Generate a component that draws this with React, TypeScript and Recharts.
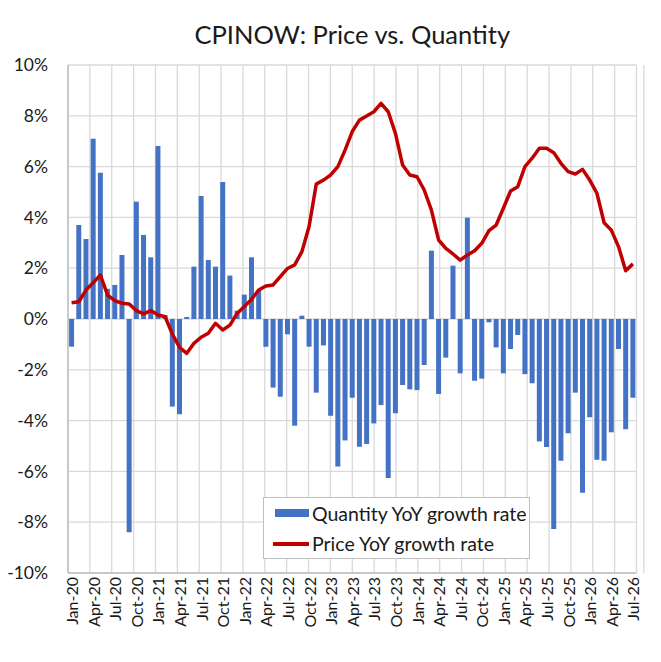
import React from "react";
import {
  ComposedChart,
  Bar,
  Line,
  XAxis,
  YAxis,
  CartesianGrid,
  Legend,
} from "recharts";

const months: string[] = [
  "Jan-20", "Feb-20", "Mar-20", "Apr-20", "May-20", "Jun-20", "Jul-20", "Aug-20", "Sep-20", "Oct-20", "Nov-20", "Dec-20",
  "Jan-21", "Feb-21", "Mar-21", "Apr-21", "May-21", "Jun-21", "Jul-21", "Aug-21", "Sep-21", "Oct-21", "Nov-21", "Dec-21",
  "Jan-22", "Feb-22", "Mar-22", "Apr-22", "May-22", "Jun-22", "Jul-22", "Aug-22", "Sep-22", "Oct-22", "Nov-22", "Dec-22",
  "Jan-23", "Feb-23", "Mar-23", "Apr-23", "May-23", "Jun-23", "Jul-23", "Aug-23", "Sep-23", "Oct-23", "Nov-23", "Dec-23",
  "Jan-24", "Feb-24", "Mar-24", "Apr-24", "May-24", "Jun-24", "Jul-24", "Aug-24", "Sep-24", "Oct-24", "Nov-24", "Dec-24",
  "Jan-25", "Feb-25", "Mar-25", "Apr-25", "May-25", "Jun-25", "Jul-25", "Aug-25", "Sep-25", "Oct-25", "Nov-25", "Dec-25",
  "Jan-26", "Feb-26", "Mar-26", "Apr-26", "May-26", "Jun-26", "Jul-26",
];

const quantityYoY: number[] = [
  -1.09, 3.7, 3.15, 7.1, 5.76, 1.19, 1.34, 2.52, -8.4, 4.62, 3.31, 2.43,
  6.81, 0.15, -3.45, -3.75, 0.08, 2.06, 4.84, 2.32, 2.06, 5.39, 1.71, 0.33,
  0.96, 2.43, 1.14, -1.09, -2.7, -3.06, -0.6, -4.2, 0.13, -1.09, -2.9, -1.04,
  -3.81, -5.81, -4.78, -3.1, -5.03, -4.92, -4.11, -3.39, -6.26, -3.71, -2.6, -2.77,
  -2.8, -1.81, 2.69, -2.95, -1.52, 2.1, -2.14, 3.99, -2.43, -2.35, -0.13, -1.12,
  -2.14, -1.18, -0.63, -2.17, -2.53, -4.82, -5.04, -8.27, -5.58, -4.5, -2.9, -6.84,
  -3.87, -5.54, -5.58, -4.46, -1.18, -4.34, -3.1,
];

const priceYoY: number[] = [
  0.64, 0.68, 1.14, 1.43, 1.73, 0.94, 0.72, 0.62, 0.59, 0.33, 0.2, 0.33,
  0.16, 0.09, -0.59, -1.12, -1.35, -0.96, -0.72, -0.56, -0.17, -0.43, -0.24, 0.22,
  0.49, 0.77, 1.14, 1.3, 1.34, 1.67, 1.99, 2.13, 2.65, 3.64, 5.31, 5.47,
  5.67, 6.0, 6.65, 7.38, 7.83, 7.99, 8.16, 8.49, 8.16, 7.31, 6.06, 5.67,
  5.6, 5.08, 4.29, 3.11, 2.78, 2.56, 2.32, 2.52, 2.69, 2.98, 3.48, 3.7,
  4.36, 5.04, 5.21, 6.0, 6.33, 6.72, 6.72, 6.55, 6.13, 5.8, 5.71, 5.89,
  5.47, 4.95, 3.79, 3.5, 2.85, 1.9, 2.17,
];

const yTicks: number[] = [-10, -8, -6, -4, -2, 0, 2, 4, 6, 8, 10];
const gridTicks: number[] = [
  0, 3, 6, 9, 12, 15, 18, 21, 24, 27, 30, 33, 36, 39, 42, 45, 48, 51, 54, 57, 60, 63, 66, 69, 72, 75, 78, 79,
];

const data = months.map((m, i) => ({
  month: m,
  quantity: quantityYoY[i],
  price: priceYoY[i],
}));

const FONT = "Lato, 'Open Sans', sans-serif";
const TEXT = "#1a1a1a";

const XTick = (props: any) => {
  const { x, y, payload } = props;
  return (
    <text
      x={x}
      y={y}
      transform={`rotate(-90, ${x}, ${y})`}
      textAnchor="end"
      dominantBaseline="central"
      fontSize={16}
      fontFamily={FONT}
      fill={TEXT}
    >
      {payload.value}
    </text>
  );
};

const renderLegend = () => (
  <div
    style={{
      position: "relative",
      width: 265,
      height: 60,
      border: "1px solid #bfbfbf",
      background: "#fff",
      fontFamily: FONT,
      fontSize: 19.5,
      color: TEXT,
      boxSizing: "content-box",
    }}
  >
    <div style={{ position: "absolute", left: 11, top: 11, width: 34, height: 8, background: "#4472C4" }} />
    <div style={{ position: "absolute", left: 48, top: 0, height: 31, lineHeight: "31px", whiteSpace: "nowrap" }}>
      Quantity YoY growth rate
    </div>
    <div style={{ position: "absolute", left: 9, top: 44, width: 36, height: 3.5, background: "#C00000" }} />
    <div style={{ position: "absolute", left: 48, top: 30, height: 31, lineHeight: "31px", whiteSpace: "nowrap" }}>
      Price YoY growth rate
    </div>
  </div>
);

export default function App() {
  return (
    <div style={{ position: "relative", width: 645, height: 646, background: "#fff" }}>
      <div
        style={{
          position: "absolute",
          left: 60,
          top: 11,
          width: 568.5,
          textAlign: "center",
          fontFamily: FONT,
          fontSize: 25.5,
          color: TEXT,
          zIndex: 2,
        }}
      >
        CPINOW: Price vs. Quantity
      </div>
      <ComposedChart
        width={645}
        height={646}
        data={data}
        margin={{ top: 57, right: 16.5, left: 0, bottom: 0 }}
        barCategoryGap="15%"
      >
        <XAxis
          xAxisId="grid"
          type="number"
          domain={[0, 79]}
          ticks={gridTicks}
          allowDataOverflow
          hide
        />
        <CartesianGrid
          xAxisId="grid"
          stroke="#d9d9d9"
          strokeWidth={1.3}
        />
        <XAxis
          dataKey="month"
          interval={2}
          height={81}
          tickSize={0}
          tickMargin={4}
          tick={<XTick />}
          axisLine={{ stroke: "#bfbfbf", strokeWidth: 1.5 }}
          tickLine={false}
        />
        <YAxis
          domain={[-10, 10]}
          ticks={yTicks}
          width={60}
          tickSize={0}
          tickMargin={20}
          axisLine={{ stroke: "#bfbfbf", strokeWidth: 1.5 }}
          tickLine={false}
          tickFormatter={(v: number) => `${v}%`}
          tick={{ fontSize: 17.5, fontFamily: FONT, fill: TEXT }}
        />
        <Bar
          dataKey="quantity"
          name="Quantity YoY growth rate"
          fill="#4472C4"
          isAnimationActive={false}
        />
        <Line
          dataKey="price"
          name="Price YoY growth rate"
          type="linear"
          stroke="#C00000"
          strokeWidth={3.5}
          strokeLinejoin="round"
          dot={false}
          activeDot={false}
          isAnimationActive={false}
        />
        <Legend
          layout="horizontal"
          verticalAlign="middle"
          align="center"
          content={renderLegend}
          wrapperStyle={{ left: 255, top: 489, width: 267, height: 62 }}
        />
      </ComposedChart>
    </div>
  );
}
